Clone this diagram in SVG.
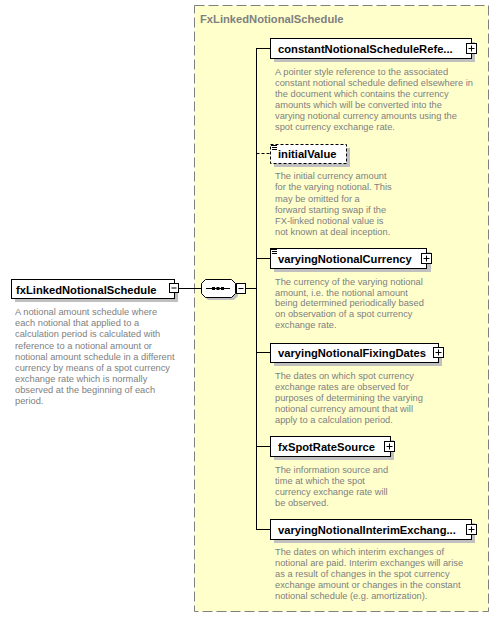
<svg xmlns="http://www.w3.org/2000/svg" width="500" height="618" viewBox="0 0 500 618">
<style>
.lbl{font-family:"Liberation Sans",Arial,sans-serif;font-weight:bold;font-size:11.2px;fill:#000}
.ttl{font-family:"Liberation Sans",Arial,sans-serif;font-weight:bold;font-size:11.2px;fill:#808080}
.doc{font-family:"Liberation Sans",Arial,sans-serif;font-size:9.3px;fill:#808080}
.box{fill:#fff;stroke:#000;stroke-width:1}
.shd{fill:#c0c0c0}
.btn{fill:#fff;stroke:#000;stroke-width:1}
.sgn{stroke:#000;stroke-width:1;fill:none}
.ln{stroke:#000;stroke-width:1;fill:none}
</style>
<rect x="0" y="0" width="500" height="618" fill="#fff"/>
<g id="complexType">
<rect x="194.5" y="5.5" width="294" height="606" fill="#ffffcc" stroke="#808080" stroke-dasharray="10 4"/>
<text class="ttl" x="200" y="23">FxLinkedNotionalSchedule</text>
</g>
<g id="connectors">
<line class="ln" x1="179" y1="288.5" x2="201" y2="288.5"/>
<line class="ln" x1="246" y1="288.5" x2="256.5" y2="288.5"/>
<line class="ln" x1="256.5" y1="48" x2="256.5" y2="530"/>
<line class="ln" x1="256.5" y1="48.5" x2="270" y2="48.5"/>
<line class="ln" x1="256.5" y1="153.5" x2="270" y2="153.5" stroke-dasharray="3 2"/>
<line class="ln" x1="256.5" y1="258.5" x2="270" y2="258.5"/>
<line class="ln" x1="256.5" y1="352.5" x2="270" y2="352.5"/>
<line class="ln" x1="256.5" y1="446.5" x2="270" y2="446.5"/>
<line class="ln" x1="256.5" y1="529.5" x2="270" y2="529.5"/>
</g>
<g id="fxLinkedNotionalSchedule">
<rect class="shd" x="15" y="283" width="163" height="19"/>
<rect class="box" x="11.5" y="279.5" width="163" height="19"/>
<text class="lbl" x="16" y="293.5">fxLinkedNotionalSchedule</text>
<rect class="btn" x="169.5" y="283.5" width="9" height="9"/>
<line class="sgn" x1="171.5" y1="288" x2="176.5" y2="288"/>
<text class="doc"><tspan x="15" y="315.2">A notional amount schedule where</tspan><tspan x="15" y="326.3">each notional that applied to a</tspan><tspan x="15" y="337.4">calculation period is calculated with</tspan><tspan x="15" y="348.5">reference to a notional amount or</tspan><tspan x="15" y="359.6">notional amount schedule in a different</tspan><tspan x="15" y="370.7">currency by means of a spot currency</tspan><tspan x="15" y="381.8">exchange rate which is normally</tspan><tspan x="15" y="392.9">observed at the beginning of each</tspan><tspan x="15" y="404">period.</tspan></text>
</g>
<g id="sequence">
<path class="shd" d="M208,282 H234 L238,286 V296 L234,300 H208 L204,296 V286 Z"/>
<path d="M205.5,279.5 H231.5 L235.5,283.5 V293.5 L231.5,297.5 H205.5 L201.5,293.5 V283.5 Z" fill="#fff" stroke="#000"/>
<line class="ln" x1="206" y1="288.5" x2="230" y2="288.5"/>
<rect x="212" y="287" width="3" height="3" fill="#000"/>
<rect x="216.5" y="287" width="3" height="3" fill="#000"/>
<rect x="221" y="287" width="3" height="3" fill="#000"/>
<rect class="btn" x="236.5" y="283.5" width="9" height="10"/>
<line class="sgn" x1="238.5" y1="288.5" x2="243.5" y2="288.5"/>
</g>
<g id="constantNotionalScheduleReference">
<rect class="shd" x="274" y="42" width="201" height="20"/>
<rect class="box" x="270.5" y="38.5" width="201" height="20"/>
<text class="lbl" x="278" y="52.5">constantNotionalScheduleRefe...</text>
<rect class="btn" x="466.5" y="43.5" width="10" height="10"/>
<path class="sgn" d="M468.5,48.5 H474.5 M471.5,45.5 V51.5"/>
<text class="doc"><tspan x="275" y="74.5">A pointer style reference to the associated</tspan><tspan x="275" y="85.5">constant notional schedule defined elsewhere in</tspan><tspan x="275" y="96.5">the document which contains the currency</tspan><tspan x="275" y="107.5">amounts which will be converted into the</tspan><tspan x="275" y="118.5">varying notional currency amounts using the</tspan><tspan x="275" y="129.5">spot currency exchange rate.</tspan></text>
</g>
<g id="initialValue">
<rect class="shd" x="274" y="148" width="76" height="19"/>
<rect class="box" x="270.5" y="144.5" width="76" height="19" stroke-dasharray="3 2"/>
<path class="sgn" d="M271,145.5 H277 M272,147.5 H277 M272,149.5 H277"/>
<text class="lbl" x="278" y="158">initialValue</text>
<text class="doc"><tspan x="275" y="179.2">The initial currency amount</tspan><tspan x="275" y="190.2">for the varying notional. This</tspan><tspan x="275" y="201.5">may be omitted for a</tspan><tspan x="275" y="212.8">forward starting swap if the</tspan><tspan x="275" y="223.5">FX-linked notional value is</tspan><tspan x="275" y="234.5">not known at deal inception.</tspan></text>
</g>
<g id="varyingNotionalCurrency">
<rect class="shd" x="274" y="252" width="157" height="20"/>
<rect class="box" x="270.5" y="248.5" width="156" height="20"/>
<path class="sgn" d="M271,249.5 H277 M272,251.5 H277 M272,253.5 H277"/>
<text class="lbl" x="278" y="262.5">varyingNotionalCurrency</text>
<rect class="btn" x="421.5" y="253.5" width="10" height="10"/>
<path class="sgn" d="M423.5,258.5 H429.5 M426.5,255.5 V261.5"/>
<text class="doc"><tspan x="275" y="284.5">The currency of the varying notional</tspan><tspan x="275" y="295.5">amount, i.e. the notional amount</tspan><tspan x="275" y="306.3">being determined periodically based</tspan><tspan x="275" y="317.3">on observation of a spot currency</tspan><tspan x="275" y="328.3">exchange rate.</tspan></text>
</g>
<g id="varyingNotionalFixingDates">
<rect class="shd" x="274" y="347" width="168" height="19"/>
<rect class="box" x="270.5" y="343.5" width="168" height="19"/>
<text class="lbl" x="278" y="357">varyingNotionalFixingDates</text>
<rect class="btn" x="433.5" y="347.5" width="10" height="10"/>
<path class="sgn" d="M435.5,352.5 H441.5 M438.5,349.5 V355.5"/>
<text class="doc"><tspan x="275" y="378.5">The dates on which spot currency</tspan><tspan x="275" y="389.5">exchange rates are observed for</tspan><tspan x="275" y="400.5">purposes of determining the varying</tspan><tspan x="275" y="411.5">notional currency amount that will</tspan><tspan x="275" y="422.5">apply to a calculation period.</tspan></text>
</g>
<g id="fxSpotRateSource">
<rect class="shd" x="274" y="440" width="120" height="20"/>
<rect class="box" x="270.5" y="436.5" width="120" height="20"/>
<text class="lbl" x="278" y="450.5">fxSpotRateSource</text>
<rect class="btn" x="384.5" y="441.5" width="10" height="10"/>
<path class="sgn" d="M386.5,446.5 H392.5 M389.5,443.5 V449.5"/>
<text class="doc"><tspan x="275" y="472.5">The information source and</tspan><tspan x="275" y="483.5">time at which the spot</tspan><tspan x="275" y="494.5">currency exchange rate will</tspan><tspan x="275" y="505.5">be observed.</tspan></text>
</g>
<g id="varyingNotionalInterimExchangePaymentDates">
<rect class="shd" x="274" y="523" width="201" height="20"/>
<rect class="box" x="270.5" y="519.5" width="201" height="20"/>
<text class="lbl" x="278" y="533.5">varyingNotionalInterimExchang...</text>
<rect class="btn" x="466.5" y="524.5" width="10" height="10"/>
<path class="sgn" d="M468.5,529.5 H474.5 M471.5,526.5 V532.5"/>
<text class="doc"><tspan x="275" y="554.5">The dates on which interim exchanges of</tspan><tspan x="275" y="565.5">notional are paid. Interim exchanges will arise</tspan><tspan x="275" y="576.5">as a result of changes in the spot currency</tspan><tspan x="275" y="587.5">exchange amount or changes in the constant</tspan><tspan x="275" y="598.5">notional schedule (e.g. amortization).</tspan></text>
</g>
</svg>
